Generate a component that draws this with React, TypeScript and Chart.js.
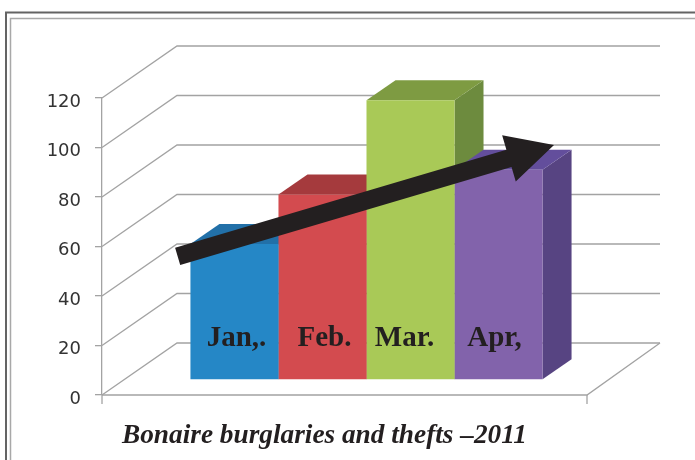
import React, { useEffect, useRef } from "react";
import { Chart, registerables } from "chart.js";

Chart.register(...registerables);

const categories = ["Bonaire burglaries and thefts –2011"];
const months = ["Jan,.", "Feb.", "Mar.", "Apr,"];
const values = [55, 75, 113, 85];
const yTicks = [0, 20, 40, 60, 80, 100, 120];
const frontColors = ["#2587c6", "#d34b4f", "#a9c957", "#8263ab"];
const topColors = ["#2270a8", "#a53a3d", "#7e9b42", "#634e9c"];
const sideColors = ["#1f6596", "#8f3336", "#6d8b3e", "#574482"];
const labelNudges = [2, 2, -6, -4];
const labelValue = 20;
const arrowValues = [56, 101];
const arrowFractions = [0.156, 0.932];

const WALL = { dx: 75, dy: -52 };
const BASE = { dx: 22, dy: -15 };
const BOX = { dx: 29, dy: -20 };
const GRID = "#a3a3a3";
const INK = "#231f20";

const face = (ctx: CanvasRenderingContext2D, pts: number[][], fill: string) => {
  ctx.beginPath();
  pts.forEach(([x, y], i) => (i ? ctx.lineTo(x, y) : ctx.moveTo(x, y)));
  ctx.closePath();
  ctx.fillStyle = fill;
  ctx.fill();
};

const line = (ctx: CanvasRenderingContext2D, pts: number[][], color = GRID, w = 1.3) => {
  ctx.beginPath();
  pts.forEach(([x, y], i) => (i ? ctx.lineTo(x, y) : ctx.moveTo(x, y)));
  ctx.strokeStyle = color;
  ctx.lineWidth = w;
  ctx.stroke();
};

const scene = {
  id: "scene3d",
  beforeDraw(chart: any) {
    const { ctx, width, height } = chart;
    ctx.save();
    ctx.fillStyle = "#ffffff";
    ctx.fillRect(0, 0, width, height);
    line(ctx, [[6, height], [6, 12.5], [width, 12.5]], "#646464", 2);
    line(ctx, [[10.5, height], [10.5, 18.5], [width, 18.5]], "#a8a8a8", 1.5);
    ctx.restore();
  },
  beforeDatasetsDraw(chart: any) {
    const { ctx, chartArea } = chart;
    const { left, right, bottom } = chartArea;
    const y = chart.scales.y;
    ctx.save();
    yTicks.forEach((t) => {
      const py = y.getPixelForValue(t);
      line(ctx, [[left, py], [left + WALL.dx, py + WALL.dy], [right + WALL.dx - 2, py + WALL.dy]]);
    });
    line(ctx, [[left, bottom], [right, bottom], [right + WALL.dx - 2, bottom + WALL.dy]]);
    line(ctx, [[right, bottom], [right, bottom + 9]]);
    line(ctx, [[left, bottom], [left, bottom + 9]]);
    ctx.restore();

    ctx.save();
    ctx.translate(BASE.dx, BASE.dy);
    months.forEach((_, i) => {
      const b = chart.getDatasetMeta(i).data[0];
      const x0 = b.x - b.width / 2;
      const x1 = b.x + b.width / 2;
      face(ctx, [[x1, b.y], [x1 + BOX.dx, b.y + BOX.dy], [x1 + BOX.dx, b.base + BOX.dy], [x1, b.base]], sideColors[i]);
      face(ctx, [[x0, b.y], [x0 + BOX.dx, b.y + BOX.dy], [x1 + BOX.dx, b.y + BOX.dy], [x1, b.y]], topColors[i]);
    });
  },
  afterDatasetsDraw(chart: any) {
    const { ctx, chartArea } = chart;
    ctx.restore();
    const { left, right, width } = chartArea;
    const y = chart.scales.y;
    ctx.save();
    ctx.fillStyle = INK;
    ctx.textBaseline = "alphabetic";
    ctx.textAlign = "center";
    ctx.font = "bold 29px 'Liberation Serif'";
    months.forEach((m, i) => {
      const b = chart.getDatasetMeta(i).data[0];
      ctx.fillText(m, b.x + BASE.dx + labelNudges[i], y.getPixelForValue(labelValue));
    });

    const ax = left + width * arrowFractions[0];
    const ay = y.getPixelForValue(arrowValues[0]);
    const bx = left + width * arrowFractions[1];
    const by = y.getPixelForValue(arrowValues[1]);
    const len = Math.hypot(bx - ax, by - ay);
    const ux = (bx - ax) / len;
    const uy = (by - ay) / len;
    const nx = -uy;
    const ny = ux;
    const hw = 9;
    const headLen = 47;
    const headHw = 24;
    const hx = bx - ux * headLen;
    const hy = by - uy * headLen;
    face(
      ctx,
      [
        [ax + nx * hw, ay + ny * hw],
        [hx + nx * hw, hy + ny * hw],
        [hx + nx * headHw, hy + ny * headHw],
        [bx, by],
        [hx - nx * headHw, hy - ny * headHw],
        [hx - nx * hw, hy - ny * hw],
        [ax - nx * hw, ay - ny * hw],
      ],
      INK
    );

    ctx.fillStyle = INK;
    ctx.font = "italic bold 27.3px 'Liberation Serif'";
    ctx.textAlign = "center";
    ctx.fillText(categories[0], (left + right) / 2 - 20, 443);
    ctx.restore();
  },
};

export default function App() {
  const ref = useRef<HTMLCanvasElement>(null);
  useEffect(() => {
    const chart = new Chart(ref.current as HTMLCanvasElement, {
      type: "bar",
      data: {
        labels: categories,
        datasets: months.map((m, i) => ({
          label: m,
          data: [values[i]],
          backgroundColor: frontColors[i],
          borderWidth: 0,
          clip: false,
          barPercentage: 1,
          categoryPercentage: 0.726,
        })),
      },
      options: {
        responsive: false,
        animation: false,
        layout: { padding: { left: 0, right: 108, top: 98, bottom: 0 } },
        plugins: { legend: { display: false }, tooltip: { enabled: false }, title: { display: false } },
        scales: {
          x: {
            afterFit: (s: any) => {
              s.height = 65;
            },
            ticks: { display: false },
            grid: { display: false },
            border: { display: false },
          },
          y: {
            min: 0,
            max: 120,
            afterFit: (s: any) => {
              s.width = 102;
            },
            ticks: {
              stepSize: 20,
              padding: 14,
              labelOffset: 4,
              color: "#333333",
              font: { family: "'DejaVu Sans'", size: 18 },
            },
            grid: { drawOnChartArea: false, drawTicks: true, tickLength: 7, color: GRID, lineWidth: 1.3 },
            border: { display: true, color: GRID, width: 1.3 },
          },
        },
      },
      plugins: [scene],
    } as any);
    return () => chart.destroy();
  }, []);
  return (
    <div style={{ position: "fixed", left: 0, top: 0 }}>
      <canvas ref={ref} width={695} height={460} style={{ display: "block" }} />
    </div>
  );
}
